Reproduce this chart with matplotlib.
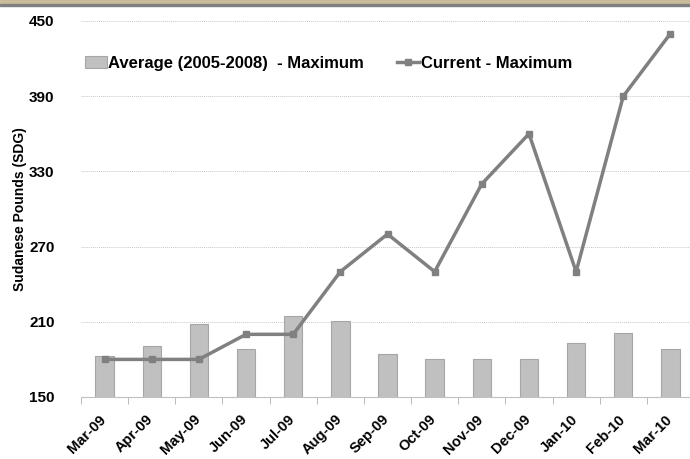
import matplotlib.pyplot as plt
import matplotlib.transforms as mtransforms
import numpy as np
from matplotlib.patches import Rectangle

months = ['Mar-09', 'Apr-09', 'May-09', 'Jun-09', 'Jul-09', 'Aug-09', 'Sep-09',
          'Oct-09', 'Nov-09', 'Dec-09', 'Jan-10', 'Feb-10', 'Mar-10']
avg_max = [183, 191, 208, 188, 215, 211, 184, 180, 180, 180, 193, 201, 188]
cur_max = [180, 180, 180, 200, 200, 250, 280, 250, 320, 360, 250, 390, 440]

plt.rcParams['font.family'] = ['Liberation Sans', 'DejaVu Sans']
plt.rcParams['font.weight'] = 'bold'

fig = plt.figure(figsize=(6.9, 4.59), dpi=100)
ax = fig.add_axes([81 / 690, 1 - 397 / 459, 613 / 690, 376 / 459])

x = np.arange(len(months))
bars = ax.bar(x, avg_max, width=0.39, bottom=0, color='#c0c0c0', edgecolor='#a6a6a6',
              linewidth=0.8, label='Average (2005-2008)  - Maximum', zorder=2)
line, = ax.plot(x, cur_max, color='#808080', linewidth=2.5, marker='s', markersize=5,
                label='Current - Maximum', zorder=3)

ax.set_ylim(150, 450)
ax.set_xlim(-0.5, len(months) - 0.5)
ax.set_yticks(range(150, 451, 60))
ax.yaxis.grid(True, linestyle=(0, (1, 1)), color='#c8c8c8', linewidth=0.7)
ax.set_axisbelow(True)

ax.set_xticks(x)
ax.set_xticklabels(months, rotation=45, ha='right', rotation_mode='anchor',
                   fontsize=10.5, fontweight='bold')
ax.set_xticks(np.arange(-0.5, len(months)), minor=True)
ax.tick_params(axis='x', which='major', length=0, pad=11)
ax.tick_params(axis='x', which='minor', length=5, color='#b0b0b0')
ax.tick_params(axis='y', length=0, labelsize=11, pad=19)
for lbl in ax.get_yticklabels():
    lbl.set_fontweight('bold')
# nudge the rotated month labels a little to the left
shift = mtransforms.ScaledTranslation(-4 / 72, 0, fig.dpi_scale_trans)
for lbl in ax.get_xticklabels():
    lbl.set_transform(lbl.get_transform() + shift)

for s in ['top', 'right', 'left']:
    ax.spines[s].set_visible(False)
ax.spines['bottom'].set_color('#c0c0c0')

ax.set_ylabel('Sudanese Pounds (SDG)', fontsize=10, fontweight='bold')
ax.yaxis.set_label_coords(-0.088, 0.5)

ax.legend([bars, line], [bars.get_label(), line.get_label()],
          loc='upper left', bbox_to_anchor=(-0.018, 0.948), ncol=2, frameon=False,
          prop={'weight': 'bold', 'size': 12}, handlelength=1.3,
          handletextpad=0.1, columnspacing=2.0)

# top border strip from original frame
fig.patches.append(Rectangle((0, 1 - 4 / 459), 1, 4 / 459, transform=fig.transFigure,
                             color='#c8bd98', zorder=0))
fig.patches.append(Rectangle((0, 1 - 6 / 459), 1, 2 / 459, transform=fig.transFigure,
                             color='#808080', zorder=0))

fig.savefig('out.png', dpi=100)
